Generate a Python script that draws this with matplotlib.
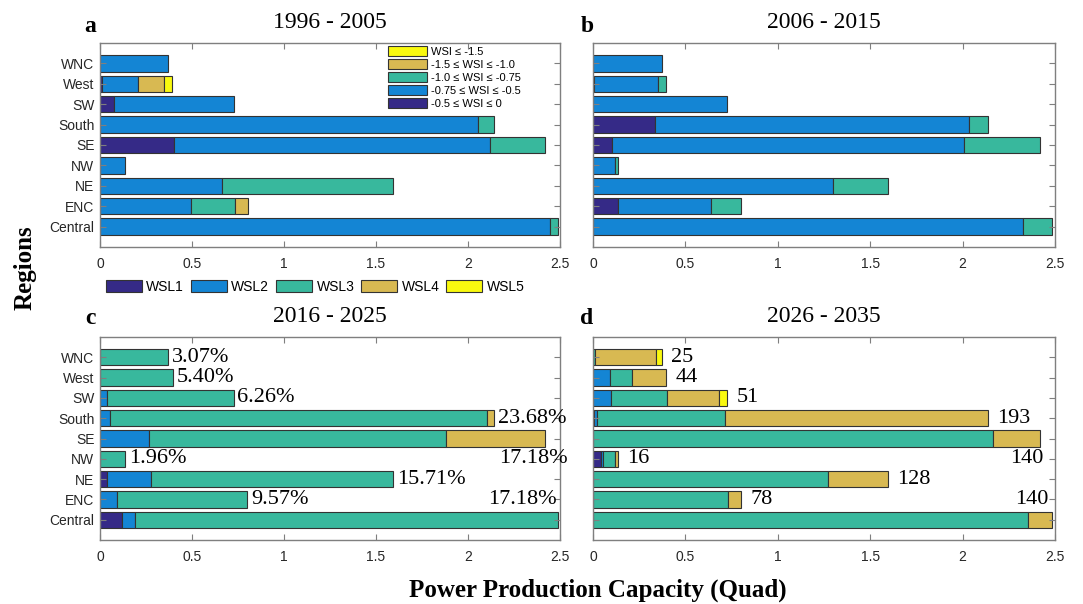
import matplotlib
matplotlib.use('Agg')
import matplotlib.pyplot as plt
from matplotlib.patches import Patch
import numpy as np

W, H = 1083, 604

regions = ['Central', 'ENC', 'NE', 'NW', 'SE', 'South', 'SW', 'West', 'WNC']
levels = ['WSL1', 'WSL2', 'WSL3', 'WSL4', 'WSL5']
colors = ['#352A87', '#1485D4', '#38B89D', '#D8B952', '#F9F90F']
wsi_labels = ['-0.5 \u2264 WSI \u2264 0', '-0.75 \u2264 WSI \u2264 -0.5',
              '-1.0 \u2264 WSI \u2264 -0.75', '-1.5 \u2264 WSI \u2264 -1.0',
              'WSI \u2264 -1.5']
periods = ['1996 - 2005', '2006 - 2015', '2016 - 2025', '2026 - 2035']
letters = ['a', 'b', 'c', 'd']

# widths per region (rows) and level (cols), Quad
p1 = [[0, 2.447, 0.042, 0, 0],
      [0, 0.492, 0.243, 0.067, 0],
      [0, 0.662, 0.931, 0, 0],
      [0, 0.136, 0, 0, 0],
      [0.401, 1.720, 0.299, 0, 0],
      [0, 2.056, 0.083, 0, 0],
      [0.076, 0.650, 0, 0, 0],
      [0.011, 0.194, 0, 0.145, 0.042],
      [0, 0.372, 0, 0, 0]]
p2 = [[0, 2.329, 0.157, 0, 0],
      [0.133, 0.507, 0.162, 0, 0],
      [0, 1.299, 0.295, 0, 0],
      [0, 0.120, 0.017, 0, 0],
      [0.104, 1.903, 0.410, 0, 0],
      [0.336, 1.696, 0.106, 0, 0],
      [0, 0.727, 0, 0, 0],
      [0.005, 0.346, 0.043, 0, 0],
      [0, 0.371, 0, 0, 0]]
p3 = [[0.120, 0.069, 2.300, 0, 0],
      [0, 0.091, 0.709, 0, 0],
      [0.036, 0.240, 1.317, 0, 0],
      [0, 0, 0.136, 0, 0],
      [0, 0.265, 1.616, 0.539, 0],
      [0, 0.056, 2.049, 0.036, 0],
      [0, 0.036, 0.691, 0, 0],
      [0, 0, 0.396, 0, 0],
      [0, 0, 0.372, 0, 0]]
p4 = [[0, 0, 2.356, 0.130, 0],
      [0, 0, 0.728, 0.074, 0],
      [0, 0, 1.272, 0.322, 0],
      [0.045, 0.009, 0.066, 0.016, 0],
      [0, 0, 2.162, 0.255, 0],
      [0.004, 0.016, 0.694, 1.423, 0],
      [0, 0.100, 0.300, 0.283, 0.044],
      [0, 0.092, 0.117, 0.188, 0],
      [0, 0, 0.011, 0.331, 0.030]]
data = [p1, p2, p3, p4]

pct_labels = ['17.18%', '9.57%', '15.71%', '1.96%', '17.18%', '23.68%', '6.26%', '5.40%', '3.07%']
cnt_labels = ['140', '78', '128', '16', '140', '193', '51', '44', '25']

serif = 'Liberation Serif'
sans = 'Liberation Sans'

fig = plt.figure(figsize=(W / 100, H / 100), dpi=100)


def fx(x):
    return x / W


def fy(y):
    return 1 - y / H


boxes = [(100, 43, 560, 247), (593, 43, 1055, 247),
         (100, 337, 560, 540), (593, 337, 1055, 540)]
axes = []
for i, (x0, y0, x1, y1) in enumerate(boxes):
    ax = fig.add_axes([fx(x0), fy(y1), (x1 - x0) / W, (y1 - y0) / H])
    arr = np.array(data[i])
    y = np.arange(1, len(regions) + 1)
    left = np.zeros(len(regions))
    for j in range(len(levels)):
        w = arr[:, j]
        m = w > 0
        ax.barh(y[m], w[m], left=left[m], height=0.8, color=colors[j],
                edgecolor='#333333', linewidth=0.8)
        left += w
    ax.set_xlim(0, 2.5)
    ax.set_ylim(0, 10)
    ax.set_xticks([0, 0.5, 1, 1.5, 2, 2.5])
    ax.set_xticklabels(['0', '0.5', '1', '1.5', '2', '2.5'])
    ax.set_yticks(y)
    if i in (0, 2):
        ax.set_yticklabels(regions)
    else:
        ax.set_yticklabels([])
    ax.tick_params(direction='in', top=True, right=True, length=4,
                   width=0.8, color='#7f7f7f', labelsize=10, labelcolor='#262626')
    ax.tick_params(axis='x', pad=7)
    ax.tick_params(axis='y', pad=4)
    for lab in ax.get_xticklabels() + ax.get_yticklabels():
        lab.set_fontfamily(sans)
    for s in ax.spines.values():
        s.set_color('#7f7f7f')
        s.set_linewidth(1.0)
    axes.append((ax, left))

# annotations in panels c and d; SE label sits one row below, Central one row above
shift = {'SE': -1, 'Central': 1}

ax, tot = axes[2]
for k, lab in enumerate(pct_labels):
    r = k + 1
    if regions[k] in shift:
        xend = 2.54 if regions[k] == 'SE' else 2.48
        ax.text(xend, r + shift[regions[k]], lab, ha='right', va='center',
                fontsize=16, family=serif, clip_on=False)
    else:
        ax.text(tot[k] + 0.02, r, lab, ha='left', va='center', fontsize=16,
                family=serif)

ax, tot = axes[3]
for k, lab in enumerate(cnt_labels):
    r = k + 1
    if regions[k] in shift:
        ax.text(tot[k] - 0.02 if regions[k] == 'Central' else tot[k] + 0.02,
                r + shift[regions[k]], lab, ha='right', va='center',
                fontsize=16, family=serif)
    else:
        ax.text(tot[k] + 0.05, r, lab, ha='left', va='center', fontsize=16,
                family=serif)

# titles and panel letters
title_pos = [(330, 22), (824, 22), (330, 317), (824, 317)]
letter_pos = [(90, 26), (587, 26), (90, 319), (587, 319)]
for i in range(4):
    fig.text(fx(title_pos[i][0]), fy(title_pos[i][1]), periods[i], ha='center',
             va='center', fontsize=17, family=serif)
    fig.text(fx(letter_pos[i][0]), fy(letter_pos[i][1]), letters[i], ha='center',
             va='center', fontsize=17, family=serif, fontweight='bold')

fig.text(fx(25), fy(268), 'Regions', rotation=90, ha='center', va='center',
         fontsize=18, family=serif, fontweight='bold')
fig.text(fx(598), fy(590), 'Power Production Capacity (Quad)', ha='center',
         va='center', fontsize=18, family=serif, fontweight='bold')

# WSI legend inside panel a
ax0 = axes[0][0]
h_wsi = [Patch(facecolor=colors[j], edgecolor='#333333', linewidth=0.8)
         for j in range(len(levels))][::-1]
leg = ax0.legend(h_wsi, wsi_labels[::-1], loc='upper left',
                 bbox_to_anchor=((388 - 100) / 460, (247 - 46) / 204),
                 frameon=False, borderaxespad=0, borderpad=0,
                 handlelength=3.5, handleheight=1.0, labelspacing=0.2,
                 handletextpad=0.35, prop={'family': sans, 'size': 8})

# WSL legend below panel a
h_wsl = [Patch(facecolor=colors[j], edgecolor='#333333', linewidth=0.8)
         for j in range(len(levels))]
fig.legend(h_wsl, levels, loc='center left', ncol=5,
           bbox_to_anchor=(fx(106), fy(287)), frameon=False, borderaxespad=0,
           borderpad=0, handlelength=2.6, handleheight=0.9, handletextpad=0.3,
           columnspacing=0.5, prop={'family': sans, 'size': 10})

fig.savefig('out.png', dpi=100)
